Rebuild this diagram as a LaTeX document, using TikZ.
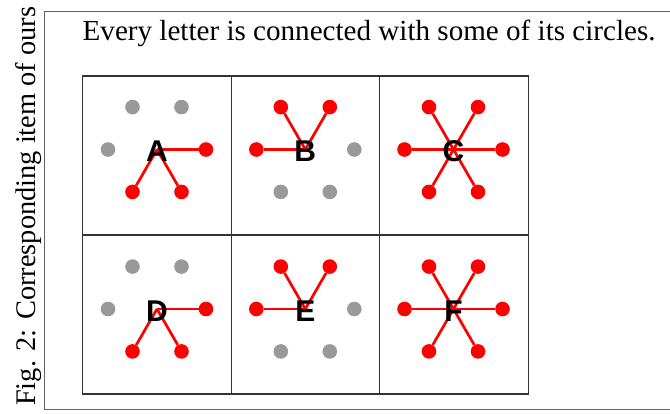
\documentclass[tikz,border=0pt]{standalone}
\usepackage{fontspec}
\setmainfont{Liberation Serif}
\newfontfamily\lettfont{Liberation Sans}[BoldFont={Liberation Sans Bold}]
\usetikzlibrary{calc}
\definecolor{dotgray}{RGB}{153,153,153}
\definecolor{framegray}{RGB}{100,100,100}
\tikzset{
  dotred/.style={circle,fill=red,draw=none,minimum size=14.6pt,inner sep=0pt},
  dotgr/.style={circle,fill=dotgray,draw=none,minimum size=14.6pt,inner sep=0pt},
  link/.style={red,line width=2.7pt},
  lett/.style={font=\lettfont\bfseries\fontsize{30}{30}\selectfont,inner sep=0pt,text=black},
  gridline/.style={draw=black!80,line width=1.1pt},
  frameline/.style={draw=framegray,line width=1.3pt},
  txt/.style={font=\fontsize{29.1}{32}\selectfont,inner sep=0pt},
  captxt/.style={font=\fontsize{28.4}{32}\selectfont,inner sep=0pt}
}
\begin{document}
\begin{tikzpicture}[x=1pt,y=-1pt]
\useasboundingbox (0,0) rectangle (670,413);
% frame
\coordinate (ftr) at (675,11.7);
\coordinate (ftl) at (44.5,11.7);
\coordinate (fbl) at (44.5,409.5);
\coordinate (fbr) at (675,409.5);
\draw[frameline] (ftr) -- (ftl) -- (fbl) -- (fbr);
% texts
\node[txt,anchor=base west] (title) at (82.5,40.7) {Every letter is connected with some of its circles.};
\node[captxt,anchor=base west,rotate=90] (cap) at (35.7,406) {Fig. 2: Corresponding item of ours};
% grid
\draw[gridline] (82.7,76) rectangle (528.2,394);
\draw[gridline] (231.2,76) -- (231.2,394);
\draw[gridline] (379.7,76) -- (379.7,394);
\draw[gridline] (82.7,235) -- (528.2,235);
% cells: name, x, y, letter, then six flags for angles 0,60,120,180,240,300
\foreach \nm/\cx/\cy/\L/\fa/\fb/\fc/\fd/\fe/\ff in {
  a/157/149.5/A/1/0/0/0/1/1,
  b/305.3/149.5/B/0/1/1/1/0/0,
  c/453.5/149.5/C/1/1/1/1/1/1,
  d/157/309/D/1/0/0/0/1/1,
  e/305.3/309/E/0/1/1/1/0/0,
  f/453.5/309/F/1/1/1/1/1/1}{
  \coordinate (\nm c) at (\cx,\cy);
  \foreach \ang/\flag [count=\k] in {0/\fa,60/\fb,120/\fc,180/\fd,240/\fe,300/\ff}{
    \ifnum\flag=1
      \node[dotred] (\nm\k) at ($(\nm c)+(\ang:49 and -49)$) {};
      \draw[link] (\nm c) -- (\nm\k);
    \else
      \node[dotgr] (\nm\k) at ($(\nm c)+(\ang:49 and -49)$) {};
    \fi
  }
  \node[lett] (\nm L) at ($(\nm c)+(0,2)$) {\L};
}
\end{tikzpicture}
\end{document}
